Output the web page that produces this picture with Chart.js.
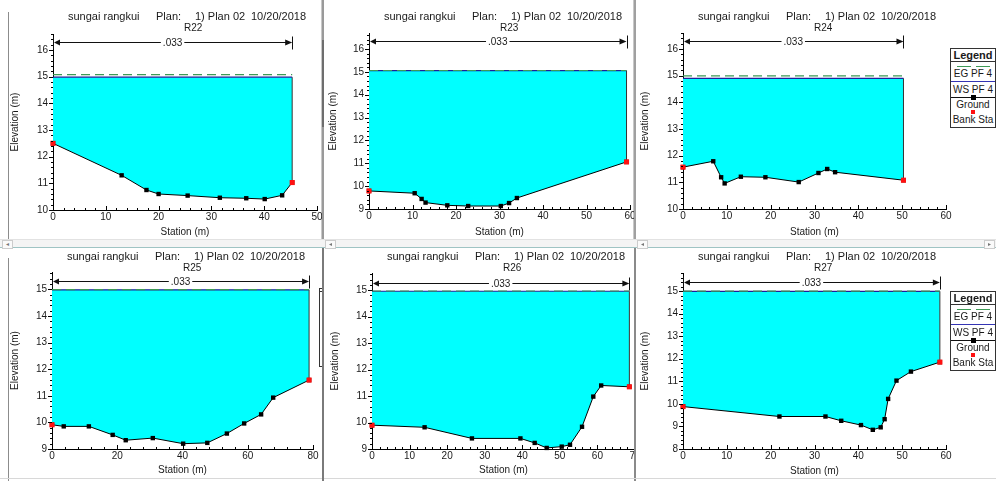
<!DOCTYPE html>
<html>
<head>
<meta charset="utf-8">
<script src="https://cdn.jsdelivr.net/npm/chart.js@4.4.1/dist/chart.umd.min.js"></script>
<style>
html, body { margin: 0; padding: 0; background: #fff; }
body { width: 996px; height: 481px; position: relative; overflow: hidden; font-family: 'Liberation Sans', Arial, sans-serif; color: #1a1a1a; }
.cell { position: absolute; overflow: hidden; }
.cell canvas { position: absolute; left: 0; top: 0; }
.t { position: absolute; font-size: 11px; line-height: 13px; white-space: nowrap; }
.rl { position: absolute; font-size: 10px; line-height: 12px; white-space: nowrap; }
.ln { position: absolute; }
.legend { position: absolute; width: 44px; height: 78px; border: 1px solid #333; background: #fff; font-size: 10px; }
.legend .row { position: absolute; left: 0; width: 44px; text-align: center; white-space: nowrap; line-height: 12px; }
.legend .mk { position: absolute; }
.btn { position: absolute; width: 9px; height: 7px; border: 1px solid #ccc; background: #fafafa; font-size: 6px; line-height: 7px; text-align: center; color: #777; }
</style>
</head>
<body>
<script>
// cross sections, station (m) / elevation (m)
const sections = ['R22', 'R23', 'R24', 'R25', 'R26', 'R27'];

const r22Sta  = [0, 13, 17.7, 20, 25.5, 31.6, 36.6, 40.1, 43.4, 45.3];
const r22Elev = [12.5, 11.3, 10.75, 10.6, 10.54, 10.46, 10.44, 10.41, 10.55, 11.03];

const r23Sta  = [0, 10.5, 12.1, 13.0, 18.0, 22.8, 30.3, 32.2, 34.0, 59.2];
const r23Elev = [9.79, 9.69, 9.44, 9.28, 9.16, 9.13, 9.13, 9.26, 9.48, 11.06];

const r24Sta  = [0, 6.9, 8.7, 9.5, 13.2, 18.8, 26.4, 30.9, 32.9, 34.7, 50.3];
const r24Elev = [11.57, 11.79, 11.19, 10.96, 11.21, 11.19, 11.01, 11.35, 11.5, 11.38, 11.08];

const r25Sta  = [0, 3.6, 11.3, 18.6, 22.6, 30.9, 40.2, 47.6, 53.6, 58.9, 64.1, 67.8, 78.8];
const r25Elev = [9.91, 9.85, 9.85, 9.53, 9.33, 9.41, 9.2, 9.23, 9.58, 9.96, 10.3, 10.93, 11.59];

const r26Sta  = [0, 14.0, 26.6, 39.5, 43.3, 46.5, 50.5, 52.7, 55.9, 58.9, 61.0, 68.5];
const r26Elev = [9.9, 9.82, 9.4, 9.4, 9.23, 9.04, 9.09, 9.16, 9.84, 10.98, 11.4, 11.35];

const r27Sta  = [0, 22.0, 32.5, 36.1, 40.6, 43.3, 45.1, 46.0, 46.8, 48.7, 52.0, 58.6];
const r27Elev = [9.88, 9.44, 9.44, 9.25, 9.06, 8.85, 8.96, 9.32, 10.22, 11.03, 11.43, 11.85];

const wsElev = [14.98, 15.05, 14.9, 14.98, 14.96, 14.99];   // WS PF 4
const egElev = [15.08, 15.06, 14.99, 14.99, 14.97, 15.0];   // EG PF 4
const nValue = '.033';
const nLevel = [16.3, 16.36, 16.29, 15.33, 15.29, 15.39];

// axes
const xMax   = [50, 60, 60, 80, 70, 60];
const xMajor = [10, 10, 10, 20, 10, 10];
const xMinor = [2, 2, 2, 4, 2, 2];
const yMin   = [10, 9, 10, 9, 9, 8];
const yMax   = [16.6, 16.7, 16.6, 15.65, 15.65, 15.8];

const titleParts = ['sungai rangkui', 'Plan:', '1) Plan 02', '10/20/2018'];
const legendItems = ['EG PF 4', 'WS PF 4', 'Ground', 'Bank Sta'];

const stations = [r22Sta, r23Sta, r24Sta, r25Sta, r26Sta, r27Sta];
const elevations = [r22Elev, r23Elev, r24Elev, r25Elev, r26Elev, r27Elev];

// page layout: cell box, plot area (left, top, right, bottom), axis title offsets
const panels = [
  { cell: [9, 0, 313, 240],   plot: [53, 34, 317, 210],  ytPad: 0, xtPad: 2, titleY: 17 },
  { cell: [325, 0, 309, 240], plot: [369, 33, 630, 209], ytPad: 2, xtPad: 2, titleY: 17 },
  { cell: [636, 0, 360, 240], plot: [683, 33, 946, 209], ytPad: 3, xtPad: 2, titleY: 17 },
  { cell: [9, 249, 313, 232], plot: [52, 272, 313, 449], ytPad: 0, xtPad: 5, titleY: 257 },
  { cell: [325, 249, 309, 232], plot: [372, 273, 635, 449], ytPad: 4, xtPad: 5, titleY: 257 },
  { cell: [636, 249, 360, 232], plot: [683, 273, 946, 449], ytPad: 3, xtPad: 4, titleY: 257 }
];

const FONT = "'Liberation Sans', Arial, sans-serif";
const INK = '#1a1a1a';
const EG_COLOR = '#3d9a55';
const WS_COLOR = '#20209a';

function el(tag, cls, css, text, parent) {
  const e = document.createElement(tag);
  if (cls) e.className = cls;
  Object.assign(e.style, css || {});
  if (text != null) e.textContent = text;
  (parent || document.body).appendChild(e);
  return e;
}

// minor ticks + manning's n arrow
const hecras = {
  id: 'hecras',
  afterDraw(chart, args, o) {
    const { ctx, scales: { x, y } } = chart;
    ctx.save();
    ctx.strokeStyle = '#000';
    ctx.lineWidth = 1;
    ctx.beginPath();
    for (let v = y.min; v <= y.max + 1e-9; v += 0.2) {
      const py = Math.round(y.getPixelForValue(v)) + 0.5;
      const major = Math.abs(v - Math.round(v)) < 1e-6;
      ctx.moveTo(x.left, py);
      ctx.lineTo(x.left - (major ? 4 : 2), py);
    }
    for (let v = 0; v <= x.max + 1e-9; v += o.minor) {
      const px = Math.round(x.getPixelForValue(v)) + 0.5;
      const major = Math.abs(v / o.major - Math.round(v / o.major)) < 1e-6;
      ctx.moveTo(px, y.bottom);
      ctx.lineTo(px, y.bottom - (major ? 4 : 2));
    }
    ctx.stroke();

    // n value span
    const x0 = x.getPixelForValue(0), x1 = x.getPixelForValue(o.xEnd);
    const py = Math.round(y.getPixelForValue(o.level)) + 0.5;
    ctx.font = '10px ' + FONT;
    ctx.fillStyle = INK;
    ctx.textAlign = 'center';
    ctx.textBaseline = 'middle';
    const mid = (x0 + x1) / 2;
    const tw = ctx.measureText(o.label).width;
    ctx.fillText(o.label, mid, py + 1);
    ctx.strokeStyle = '#111';
    ctx.beginPath();
    ctx.moveTo(x0 + 5, py); ctx.lineTo(mid - tw / 2 - 2, py);
    ctx.moveTo(mid + tw / 2 + 2, py); ctx.lineTo(x1 - 5, py);
    ctx.moveTo(Math.round(x1) + 0.5, py - 6); ctx.lineTo(Math.round(x1) + 0.5, py + 7);
    ctx.moveTo(Math.round(x0) + 0.5, py - 6); ctx.lineTo(Math.round(x0) + 0.5, py + 7);
    ctx.stroke();
    ctx.fillStyle = '#111';
    ctx.beginPath();
    ctx.moveTo(x0 + 1, py); ctx.lineTo(x0 + 7, py - 3); ctx.lineTo(x0 + 7, py + 3); ctx.closePath();
    ctx.moveTo(x1, py); ctx.lineTo(x1 - 7, py - 3); ctx.lineTo(x1 - 7, py + 3); ctx.closePath();
    ctx.fill();
    ctx.restore();
  }
};

function drawPanel(i) {
  const P = panels[i];
  const [cx, cy, cw, ch] = P.cell;
  const [pl, pt, pr, pb] = P.plot;
  const cell = el('div', 'cell', { left: cx + 'px', top: cy + 'px', width: cw + 'px', height: ch + 'px' });
  const W = pr - cx + 14, H = ch;
  const canvas = el('canvas', null, { width: W + 'px', height: H + 'px' }, null, cell);
  canvas.width = W; canvas.height = H;

  const sta = stations[i], elev = elevations[i];
  const ground = sta.map((s, k) => ({ x: s, y: elev[k] }));
  const last = ground[ground.length - 1];
  const xEnd = last.x;
  const ws = wsElev[i], eg = egElev[i];

  new Chart(canvas, {
    type: 'line',
    data: {
      datasets: [
        { label: 'Bank Sta', data: [ground[0], last], showLine: false, pointStyle: 'rect', pointRadius: 3.6,
          pointBackgroundColor: '#ff1010', pointBorderColor: '#e00000', pointBorderWidth: 0, order: 0, clip: false },
        { label: 'Ground', data: ground, borderColor: '#000', borderWidth: 1, pointStyle: 'rect', pointRadius: 3.1,
          pointBackgroundColor: '#000', pointBorderColor: '#000', pointBorderWidth: 0,
          fill: { value: ws }, backgroundColor: '#00ffff', order: 1, clip: false },
        { label: 'EG PF 4', data: [{ x: 0, y: eg }, { x: xEnd, y: eg }], borderColor: EG_COLOR, borderDash: [9, 5],
          borderWidth: 1.2, pointRadius: 0, order: 2, clip: false },
        { label: 'WS PF 4', data: [{ x: 0, y: ws }, { x: xEnd, y: ws }], borderColor: WS_COLOR, borderWidth: 1.2,
          pointRadius: 0, order: 3, clip: false },
        { label: 'edge', data: [{ x: xEnd, y: last.y }, { x: xEnd, y: ws }], borderColor: '#333', borderWidth: 1,
          pointRadius: 0, order: 4, clip: false }
      ]
    },
    options: {
      responsive: false,
      animation: false,
      devicePixelRatio: 1,
      events: [],
      layout: { padding: { left: 0, top: pt - cy, right: W - (pr - cx), bottom: 0 } },
      plugins: {
        legend: { display: false },
        tooltip: { enabled: false },
        filler: { drawTime: 'beforeDatasetsDraw' },
        hecras: { minor: xMinor[i], major: xMajor[i], xEnd: xEnd, level: nLevel[i], label: nValue }
      },
      scales: {
        x: {
          type: 'linear', min: 0, max: xMax[i],
          ticks: { stepSize: xMajor[i], padding: 1, maxRotation: 0, autoSkip: false, includeBounds: false,
                   color: INK, font: { family: FONT, size: 10 } },
          grid: { drawOnChartArea: false, drawTicks: false },
          border: { color: '#000', width: 1 },
          title: { display: true, text: 'Station (m)', color: INK, font: { family: FONT, size: 10 },
                   padding: { top: 0, bottom: P.xtPad } },
          afterFit(s) { s.height = cy + ch - pb; s.paddingLeft = 0; s.paddingRight = 0; }
        },
        y: {
          type: 'linear', min: yMin[i], max: yMax[i],
          ticks: { stepSize: 1, padding: 5, includeBounds: false, color: INK, font: { family: FONT, size: 10 } },
          grid: { drawOnChartArea: false, drawTicks: false },
          border: { color: '#000', width: 1 },
          title: { display: true, text: 'Elevation (m)', color: INK, font: { family: FONT, size: 10 },
                   padding: { top: P.ytPad, bottom: 0 } },
          afterFit(s) { s.width = pl - cx; s.paddingTop = 0; s.paddingBottom = 0; }
        }
      }
    },
    plugins: [hecras]
  });

  // header lines
  const offs = [15, 103, 142, 198];
  titleParts.forEach((txt, k) => {
    el('div', 't', { left: (pl + offs[k]) + 'px', top: (P.titleY - 7) + 'px' }, txt);
  });
  el('div', 'rl', { left: (pl + 131) + 'px', top: (P.titleY + 5) + 'px' }, sections[i]);
}

function legendBox(left, top) {
  const b = el('div', 'legend', { left: left + 'px', top: top + 'px' });
  el('div', 'row', { top: '0px', fontWeight: 'bold', fontSize: '11px', borderBottom: '1px solid #333', height: '12px', lineHeight: '12px' }, 'Legend', b);
  // EG sample: two long dashes
  el('div', 'mk', { top: '17px', left: '6px', width: '14px', height: '1px', background: EG_COLOR }, null, b);
  el('div', 'mk', { top: '17px', left: '25px', width: '14px', height: '1px', background: EG_COLOR }, null, b);
  el('div', 'row', { top: '19px' }, legendItems[0], b);
  el('div', 'mk', { top: '32px', left: '0px', width: '44px', height: '1px', background: '#3434b4' }, null, b);
  el('div', 'row', { top: '35px' }, legendItems[1], b);
  el('div', 'mk', { top: '48px', left: '0px', width: '44px', height: '1px', background: '#111' }, null, b);
  el('div', 'mk', { top: '46px', left: '20px', width: '5px', height: '5px', background: '#000' }, null, b);
  el('div', 'row', { top: '50px' }, legendItems[2], b);
  el('div', 'mk', { top: '61px', left: '20px', width: '4px', height: '4px', background: '#ff1010' }, null, b);
  el('div', 'row', { top: '65px' }, legendItems[3], b);
}

// window frames
function line(x, y, w, h, c) { return el('div', 'ln', { left: x + 'px', top: y + 'px', width: w + 'px', height: h + 'px', background: c }); }
line(8, 12, 1, 228, '#8c8c8c');
line(8, 258, 1, 223, '#8c8c8c');
line(321, 0, 1, 240, '#c8c8c8');
line(322, 0, 2, 240, '#9a9a9a');
line(322, 40, 2, 87, '#6e6e6e');
line(633, 0, 1, 240, '#c8c8c8');
line(634, 0, 2, 240, '#a0a0a0');
line(0, 239, 996, 1, '#e2e2e2');
line(0, 240, 996, 7, '#f4f4f4');
line(0, 247, 996, 1, '#9fc4c4');
line(634, 248, 2, 233, '#8a8a8a');
line(0, 478, 996, 1, '#d8d8d8');

sections.forEach((s, i) => drawPanel(i));

legendBox(950, 48);
legendBox(950, 291);

// legend of a hidden window, cut by the R25 frame edge
const stub = el('div', 'ln', { left: '319px', top: '288px', width: '3px', height: '77px', borderLeft: '1px solid #333', borderTop: '1px solid #333', borderBottom: '1px solid #333', background: '#fff' });
el('div', 'ln', { left: '0px', top: '2px', width: '3px', height: '1px', background: '#333' }, null, stub);
line(322, 248, 2, 233, '#7a7a7a');

el('div', 'btn', { left: '2px', top: '240px' }, '◂');
el('div', 'btn', { left: '325px', top: '240px' }, '◂');
el('div', 'btn', { left: '637px', top: '240px' }, '◂');
el('div', 'btn', { left: '984px', top: '240px' }, '▸');
</script>
</body>
</html>
